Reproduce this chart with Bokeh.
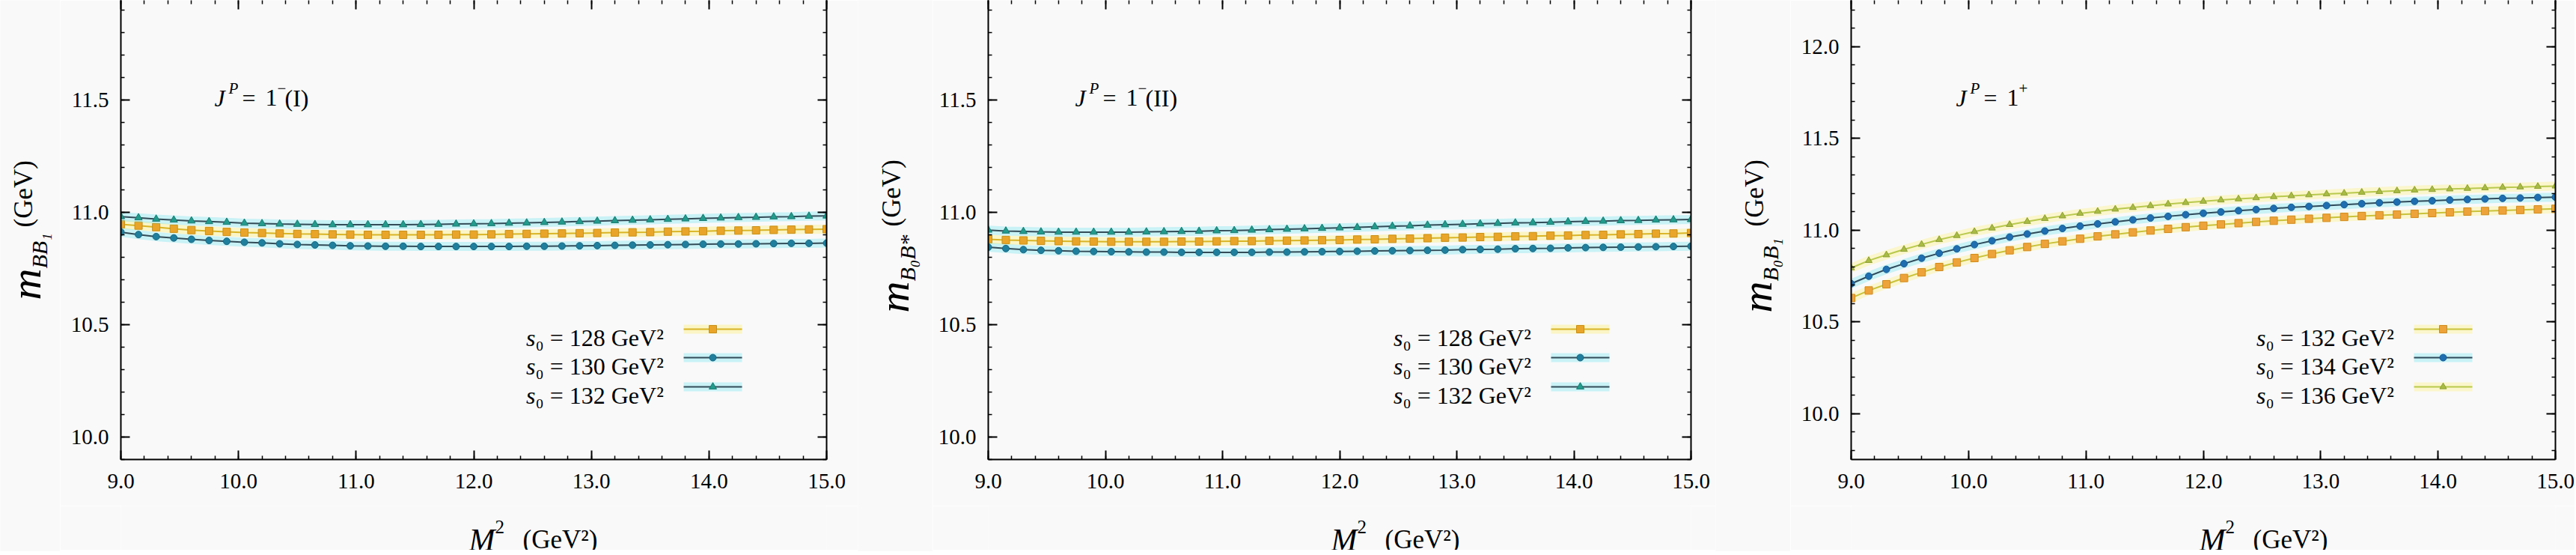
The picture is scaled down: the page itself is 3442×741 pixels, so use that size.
import math
from bokeh.plotting import figure
from bokeh.layouts import row, column
from bokeh.models import Label, SingleIntervalTicker, PrintfTickFormatter, LinearAxis, Range1d
from bokeh.embed import file_html
from bokeh.resources import INLINE

# ---------------- data ----------------
M2 = [9.00, 9.15, 9.30, 9.45, 9.60, 9.75, 9.90, 10.05, 10.20, 10.35, 10.50, 10.65, 10.80, 10.95,
      11.10, 11.25, 11.40, 11.55, 11.70, 11.85, 12.00, 12.15, 12.30, 12.45, 12.60, 12.75, 12.90,
      13.05, 13.20, 13.35, 13.50, 13.65, 13.80, 13.95, 14.10, 14.25, 14.40, 14.55, 14.70, 14.85, 15.00]

# Panel 1: J^P = 1^-(I), m_{BB1}
p1_s128 = [10.947, 10.941, 10.934, 10.927, 10.921, 10.917, 10.913, 10.910, 10.908, 10.906, 10.904,
           10.903, 10.902, 10.901, 10.900, 10.900, 10.900, 10.900, 10.900, 10.901, 10.901, 10.902,
           10.903, 10.904, 10.905, 10.906, 10.907, 10.908, 10.910, 10.911, 10.912, 10.914, 10.915,
           10.916, 10.918, 10.919, 10.920, 10.922, 10.923, 10.924, 10.925]
p1_s130 = [10.912, 10.901, 10.892, 10.886, 10.880, 10.875, 10.871, 10.867, 10.864, 10.860, 10.857,
           10.855, 10.853, 10.851, 10.850, 10.849, 10.849, 10.848, 10.848, 10.848, 10.848, 10.848,
           10.848, 10.849, 10.849, 10.850, 10.851, 10.852, 10.853, 10.854, 10.855, 10.856, 10.857,
           10.858, 10.859, 10.859, 10.860, 10.861, 10.862, 10.862, 10.863]
p1_s132 = [10.981, 10.976, 10.970, 10.966, 10.962, 10.959, 10.956, 10.952, 10.950, 10.948, 10.947,
           10.946, 10.945, 10.945, 10.945, 10.945, 10.945, 10.946, 10.947, 10.948, 10.949, 10.950,
           10.952, 10.953, 10.955, 10.957, 10.959, 10.961, 10.963, 10.965, 10.967, 10.969, 10.971,
           10.973, 10.975, 10.977, 10.978, 10.980, 10.981, 10.983, 10.984]

# Panel 2: J^P = 1^-(II), m_{B0B*}
p2_s128 = [10.880, 10.877, 10.875, 10.873, 10.872, 10.871, 10.870, 10.869, 10.869, 10.869, 10.869,
           10.870, 10.870, 10.871, 10.872, 10.872, 10.873, 10.874, 10.875, 10.876, 10.877, 10.879,
           10.880, 10.882, 10.883, 10.885, 10.887, 10.888, 10.890, 10.891, 10.893, 10.894, 10.896,
           10.897, 10.899, 10.900, 10.902, 10.903, 10.905, 10.906, 10.908]
p2_s130 = [10.845, 10.839, 10.834, 10.831, 10.829, 10.827, 10.826, 10.825, 10.824, 10.823, 10.823,
           10.822, 10.822, 10.822, 10.822, 10.822, 10.823, 10.823, 10.824, 10.825, 10.826, 10.827,
           10.828, 10.829, 10.830, 10.831, 10.832, 10.834, 10.835, 10.836, 10.838, 10.839, 10.840,
           10.842, 10.843, 10.844, 10.845, 10.846, 10.847, 10.848, 10.849]
p2_s132 = [10.921, 10.917, 10.915, 10.913, 10.912, 10.912, 10.912, 10.912, 10.912, 10.913, 10.914,
           10.915, 10.916, 10.918, 10.919, 10.921, 10.923, 10.925, 10.927, 10.929, 10.931, 10.933,
           10.936, 10.938, 10.940, 10.943, 10.945, 10.947, 10.949, 10.951, 10.953, 10.954, 10.956,
           10.958, 10.960, 10.961, 10.963, 10.964, 10.966, 10.967, 10.968]

# Panel 3: J^P = 1^+, m_{B0B1}
p3_s132 = [10.631, 10.672, 10.706, 10.740, 10.771, 10.800, 10.825, 10.849, 10.871, 10.891, 10.909,
           10.926, 10.940, 10.954, 10.967, 10.978, 10.989, 10.999, 11.008, 11.017, 11.025, 11.032,
           11.039, 11.046, 11.052, 11.058, 11.063, 11.068, 11.073, 11.078, 11.082, 11.086, 11.090,
           11.094, 11.098, 11.102, 11.105, 11.108, 11.111, 11.114, 11.117]
p3_s134 = [10.709, 10.750, 10.787, 10.818, 10.848, 10.875, 10.899, 10.922, 10.943, 10.963, 10.980,
           10.996, 11.010, 11.023, 11.035, 11.046, 11.057, 11.067, 11.076, 11.085, 11.093, 11.100,
           11.107, 11.113, 11.119, 11.125, 11.130, 11.135, 11.140, 11.145, 11.150, 11.154, 11.158,
           11.161, 11.165, 11.168, 11.171, 11.174, 11.176, 11.179, 11.181]
p3_s136 = [10.795, 10.835, 10.866, 10.896, 10.923, 10.949, 10.971, 10.993, 11.012, 11.031, 11.048,
           11.064, 11.078, 11.092, 11.103, 11.115, 11.124, 11.134, 11.143, 11.151, 11.158, 11.165,
           11.171, 11.177, 11.183, 11.188, 11.193, 11.198, 11.202, 11.207, 11.211, 11.215, 11.219,
           11.222, 11.225, 11.228, 11.231, 11.234, 11.236, 11.239, 11.241]

p12_labels = ["128", "130", "132"]
p3_labels = ["132", "134", "136"]
x_title = "(GeV²)"
y_unit = "(GeV)"

# ---------------- style / layout ----------------
SERIF = "Liberation Serif"
BG = "#f9f9f9"
FRAME_H = 613
TOP = 2          # approx size of the (label-less) top axis
BOT = 62         # space for x tick labels
XT_H = 59        # height of x-title strip
YT_H = TOP + FRAME_H + BOT + XT_H


def txt(p, x, y, s, size, style="normal", align="left", angle=0.0):
    p.add_layout(Label(x=x, y=y, x_units="screen", y_units="screen", text=s,
                       text_font=SERIF, text_font_size=f"{size}px", text_font_style=style,
                       text_align=align, text_baseline="alphabetic", angle=angle,
                       text_color="black"))


def style_axis(ax, interval, labels=True, standoff=16):
    ax.ticker = SingleIntervalTicker(interval=interval, num_minor_ticks=5)
    ax.formatter = PrintfTickFormatter(format="%.1f")
    ax.axis_line_width = 2
    ax.axis_line_color = "black"
    ax.major_tick_in = 12
    ax.major_tick_out = 0
    ax.minor_tick_in = 5
    ax.minor_tick_out = 0
    ax.major_tick_line_width = 2
    ax.minor_tick_line_width = 1.5
    ax.major_tick_line_color = "black"
    ax.minor_tick_line_color = "black"
    if labels:
        ax.major_label_text_font = SERIF
        ax.major_label_text_font_size = "29px"
        ax.major_label_text_color = "black"
        ax.major_label_standoff = standoff
    else:
        ax.major_label_text_font_size = "1px"
        ax.major_label_text_color = None
        ax.major_label_text_alpha = 0
        ax.major_label_standoff = 0


def blank_fig(w, h):
    f = figure(width=w, height=h, x_range=Range1d(0, 1), y_range=Range1d(0, 1),
               output_backend="svg", toolbar_location=None, min_border=0,
               x_axis_type=None, y_axis_type=None,
               background_fill_color=BG, border_fill_color=BG, outline_line_color=None)
    return f


def panel(ylo, yhi, frame_w, yt_w, left, right, series, labels, sub_text, b1, b2,
          jtail_pieces, jx, m_base):
    p = figure(frame_width=frame_w, frame_height=FRAME_H,
               x_range=Range1d(9.0, 15.0), y_range=Range1d(ylo, yhi),
               output_backend="svg", toolbar_location=None,
               min_border_left=left, min_border_right=right,
               min_border_top=0, min_border_bottom=BOT,
               background_fill_color=BG, border_fill_color=BG,
               outline_line_color=None)
    p.xgrid.visible = False
    p.ygrid.visible = False
    style_axis(p.xaxis[0], 1.0, standoff=19)
    style_axis(p.yaxis[0], 0.5, standoff=16)
    ra = LinearAxis()
    style_axis(ra, 0.5, labels=False)
    p.add_layout(ra, "right")
    ta = LinearAxis()
    style_axis(ta, 1.0, labels=False)
    ta.axis_line_color = None
    p.add_layout(ta, "above")

    # curves
    for ys, st in series:
        p.line(M2, ys, line_color=st["halo"], line_width=12, line_alpha=0.3)
        p.line(M2, ys, line_color=st["line"], line_width=2)
        p.scatter(M2, ys, marker=st["marker"], size=st["size"],
                  fill_color=st["mc"], line_color=st["mlc"], line_width=1)

    # legend (text left, sample right)
    row_c = [174, 136, 97]
    for i, (lab, (ys, st)) in enumerate(zip(labels, series)):
        yc = row_c[i]
        yv = ylo + yc / FRAME_H * (yhi - ylo)
        xa = 9.0 + 752 / frame_w * 6.0
        xb = 9.0 + 830 / frame_w * 6.0
        xm = 9.0 + 791 / frame_w * 6.0
        p.line([xa, xb], [yv, yv], line_color=st["halo"], line_width=12, line_alpha=0.3)
        p.line([xa, xb], [yv, yv], line_color=st["line"], line_width=2)
        p.scatter([xm], [yv], marker=st["marker"], size=st["size"],
                  fill_color=st["mc"], line_color=st["mlc"], line_width=1)
        txt(p, 554, yc - 11, "s", 32, "italic", align="right")
        txt(p, 554, yc - 11, f"₀ = {lab} GeV²", 32)

    # J^P annotation
    jy = 483
    txt(p, jx, jy, "J", 32, "italic")
    txt(p, jx + 19, jy + 13, "P", 21, "italic")
    txt(p, jx + 37, jy, "=", 32)
    txt(p, jx + 68, jy, "1", 32)
    for (s, dx, dy, sz) in jtail_pieces:
        txt(p, jx + dx, jy + dy, s, sz)

    main_w = left + frame_w + right

    # x-axis title strip
    xt = blank_fig(main_w, XT_H)
    xb0 = left + 384
    txt(xt, xb0, 14, "M", 42, "italic")
    txt(xt, xb0 + 35, 31, "2", 25)
    txt(xt, xb0 + 72, 14, x_title, 35)

    # y-axis title strip (rotated)
    yt = blank_fig(yt_w, YT_H)
    fb = XT_H + BOT     # frame bottom measured from strip bottom
    a = math.pi / 2
    txt(yt, m_base, fb + b1, "m", 58, "italic", align="right", angle=a)
    txt(yt, m_base + 18, fb + b1, sub_text, 30, "italic", align="left", angle=a)
    txt(yt, m_base - 3, fb + b2, y_unit, 35, align="left", angle=a)

    return row(yt, column(p, xt, spacing=0), spacing=0)


ST_SQ = dict(line="#d9b526", halo="#ffe84a", marker="square", size=10, mc="#e9a42a", mlc="#c8901a")
ST_CI = dict(line="#334c58", halo="#55e0f0", marker="circle", size=9, mc="#1f7f9c", mlc="#1a6680")
ST_TR = dict(line="#334c58", halo="#55e0f0", marker="triangle", size=10, mc="#239a8c", mlc="#1a7a70")

ST3_SQ = dict(line="#c9c23a", halo="#fff060", marker="square", size=10, mc="#eea23a", mlc="#d08a20")
ST3_CI = dict(line="#2f4a5a", halo="#55e0f0", marker="circle", size=9, mc="#1f6fb0", mlc="#1a5a90")
ST3_TR = dict(line="#b9c94e", halo="#fff060", marker="triangle", size=9, mc="#a9bb44", mlc="#8ea035")

tail_minus_I = [("−", 84, 13, 21), ("(I)", 94, 0, 32)]
tail_minus_II = [("−", 84, 13, 21), ("(II)", 94, 0, 32)]
tail_plus = [("+", 84, 13, 21)]

yr12 = (9.9, 9.9 + FRAME_H / 300.0)
yr3 = (9.751, 9.751 + FRAME_H / 245.0)

g1 = panel(yr12[0], yr12[1], 943, 80, 81, 42,
           [(p1_s128, ST_SQ), (p1_s130, ST_CI), (p1_s132, ST_TR)], p12_labels,
           "BB₁", 257, 312, tail_minus_I, 125, 34)
g2 = panel(yr12[0], yr12[1], 939, 100, 74, 33,
           [(p2_s128, ST_SQ), (p2_s130, ST_CI), (p2_s132, ST_TR)], p12_labels,
           "B₀B*", 240, 313, tail_minus_II, 116, 48)
g3 = panel(yr3[0], yr3[1], 941, 100, 81, 26,
           [(p3_s132, ST3_SQ), (p3_s134, ST3_CI), (p3_s136, ST3_TR)], p3_labels,
           "B₀B₁", 240, 313, tail_plus, 140, 55)

layout = row(g1, g2, g3, spacing=0)
html = file_html(layout, INLINE)
html = html.replace("<body>", '<body style="background-color:#f9f9f9">', 1)
open("out.html", "w").write(html)
